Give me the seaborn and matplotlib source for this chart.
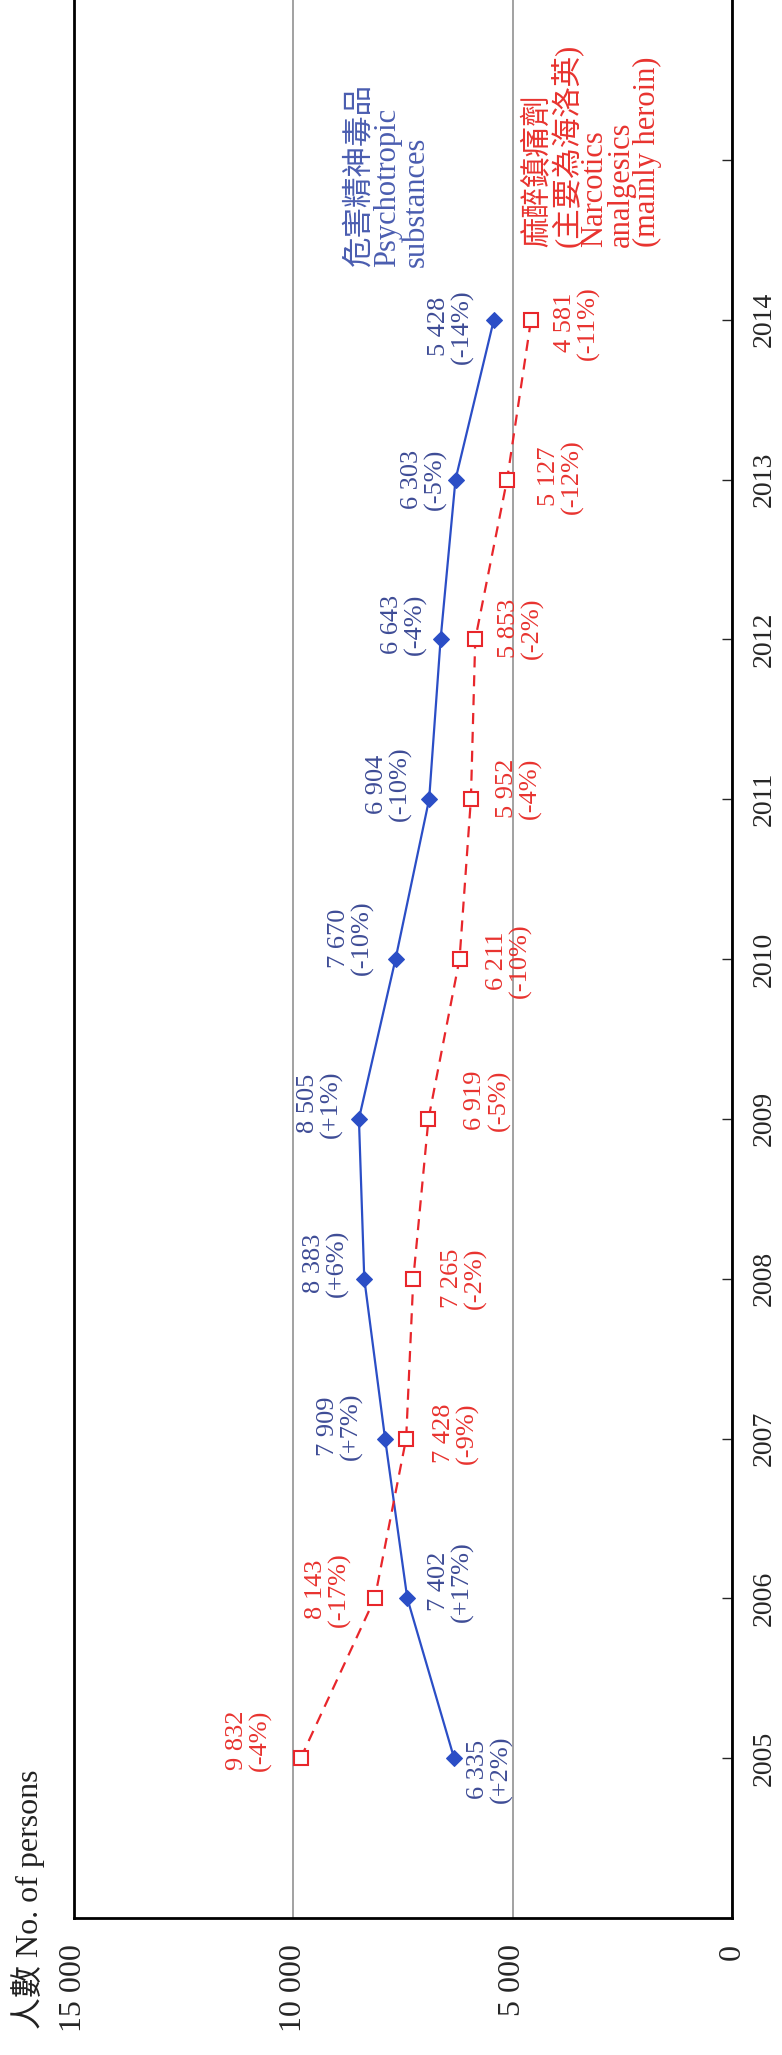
import pandas as pd
import seaborn as sns
import matplotlib.pyplot as plt

# Data
years = [2005, 2006, 2007, 2008, 2009, 2010, 2011, 2012, 2013, 2014]
psychotropic = [6335, 7402, 7909, 8383, 8505, 7670, 6904, 6643, 6303, 5428]
psychotropic_change = [2, 17, 7, 6, 1, -10, -10, -4, -5, -14]
narcotics = [9832, 8143, 7428, 7265, 6919, 6211, 5952, 5853, 5127, 4581]
narcotics_change = [-4, -17, -9, -2, -5, -10, -4, -2, -12, -11]
value_ticks = [15000, 10000, 5000, 0]
value_tick_labels = ['15 000', '10 000', '5 000', '0']
year_ticks = [2005, 2006, 2007, 2008, 2009, 2010, 2011, 2012, 2013, 2014, 2015]
year_tick_labels = ['2005', '2006', '2007', '2008', '2009', '2010', '2011', '2012', '2013', '2014', '']

psy_name = '危害精神毒品\nPsychotropic\nsubstances'
nar_name = '麻醉鎮痛劑\n(主要為海洛英)\nNarcotics\nanalgesics\n(mainly heroin)'
axis_label = '人數 No. of persons'

# label offsets (pixels) from each point
psy_offsets = [(36, -11), (44, 17), (-45, 12), (-38, 15), (-39, 15),
               (-45, 21), (-40, 15), (-37, 15), (-32, 0), (-43, -7)]
nar_offsets = [(-52, 18), (-47, 9), (50, 5), (51, 0), (59, 19),
               (49, -2), (48, 11), (46, 11), (54, 3), (46, -3)]

BLUE = '#2b4ec6'
BLUE_TXT = '#3e4c96'
RED = '#e8262b'
RED_TXT = '#e8332f'

sns.set_style('white')
plt.rcParams['font.family'] = ['Liberation Serif', 'Noto Sans CJK TC', 'DejaVu Sans']

df_psy = pd.DataFrame({'year': years, 'count': psychotropic})
df_nar = pd.DataFrame({'year': years, 'count': narcotics})

fig = plt.figure(figsize=(7.82, 20.55), dpi=100)
ax = fig.add_axes([74 / 782, 137 / 2055, 658 / 782, 1918 / 2055])

sns.lineplot(data=df_psy, x='count', y='year', orient='y', ax=ax, color=BLUE,
             lw=1.6, marker='D', markersize=8.5, markeredgecolor=BLUE,
             markerfacecolor=BLUE, legend=False, zorder=3)
sns.lineplot(data=df_nar, x='count', y='year', orient='y', ax=ax, color=RED,
             lw=1.6, linestyle=(0, (5, 3.5)), marker='s', markersize=10,
             markerfacecolor='white', markeredgecolor=RED, markeredgewidth=1.5,
             legend=False, zorder=3)

# value labels
def fmt(v, c):
    return f"{v:,}".replace(',', ' ') + f"\n({c:+d}%)"

for y, v, c, off in zip(years, psychotropic, psychotropic_change, psy_offsets):
    ax.annotate(fmt(v, c), xy=(v, y), xytext=off, textcoords='offset pixels',
                rotation=90, ha='center', va='center', fontsize=19,
                linespacing=1.05, color=BLUE_TXT)
for y, v, c, off in zip(years, narcotics, narcotics_change, nar_offsets):
    ax.annotate(fmt(v, c), xy=(v, y), xytext=off, textcoords='offset pixels',
                rotation=90, ha='center', va='center', fontsize=19,
                linespacing=1.05, color=RED_TXT)

# series names
ax.text(0.477, 0.861, psy_name, transform=ax.transAxes, rotation=90,
        ha='center', va='bottom', multialignment='left', fontsize=22,
        linespacing=0.95, color='#4a5db0')
ax.text(0.789, 0.871, nar_name, transform=ax.transAxes, rotation=90,
        ha='center', va='bottom', multialignment='left', fontsize=22,
        linespacing=0.88, color=RED_TXT)

# axes
ax.set_xlim(15000, 0)
ax.set_ylim(2004, 2016)
ax.set_xticks(value_ticks)
ax.set_xticklabels(value_tick_labels)
ax.tick_params(axis='x', length=0, pad=19, labelrotation=90, labelsize=23)
ax.yaxis.tick_right()
ax.set_yticks(year_ticks)
ax.set_yticklabels(year_tick_labels)
ax.tick_params(axis='y', direction='in', length=7, width=1, pad=14,
               labelrotation=90, labelsize=20, right=True, left=False)
for lbl in ax.get_yticklabels():
    lbl.set_va('center')
ax.set_xlabel('')
ax.set_ylabel('')
ax.xaxis.grid(True, color='#9a9a9a', lw=1.3)
ax.yaxis.grid(False)
ax.spines['top'].set_visible(False)
for s in ['left', 'right', 'bottom']:
    ax.spines[s].set_color('black')
    ax.spines[s].set_linewidth(2)

fig.text(28 / 782, 1 - 1899 / 2055, axis_label, rotation=90, ha='center',
         va='center', fontsize=23, color='#222222')

plt.savefig('out.png', dpi=100)
plt.close()
